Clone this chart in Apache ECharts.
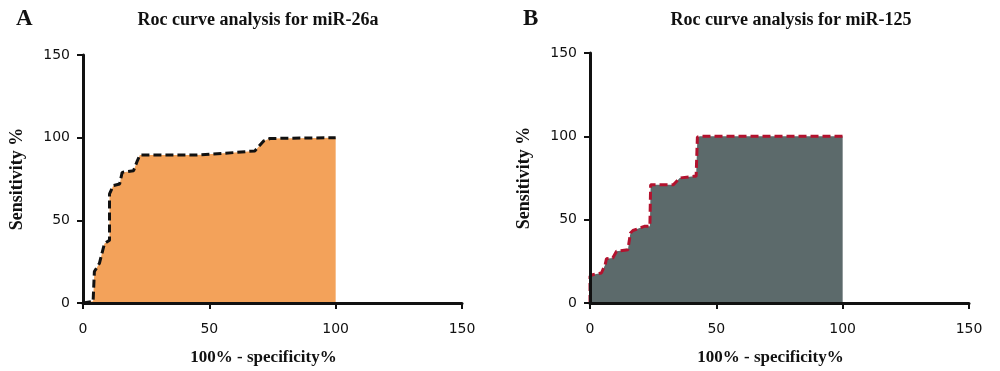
<!DOCTYPE html>
<html><head><meta charset="utf-8">
<script src="https://cdn.jsdelivr.net/npm/echarts@6/dist/echarts.min.js"></script>
<style>html,body{margin:0;padding:0;background:#fff}#c{width:1000px;height:371px}</style>
</head><body><div id="c"></div>
<script>
// Panel A: ROC for miR-26a  [100% - specificity%, sensitivity%]
const rocA = [[0,0],[4,1],[4.5,19],[6.5,24],[8.5,36],[10.5,38],[10.5,66],[12,71],[14.5,72],[15.5,79],[20,80],[21.5,86],[22.5,89.5],[45,89.5],[60,91],[68,92],[71.5,98],[74,99.5],[100,100]];
// Panel B: ROC for miR-125
const rocB = [[0,0],[0,16],[1,17],[4.5,18],[6,23],[6.5,26.5],[9,27],[10.5,31],[15,32],[16,42],[17,43.5],[21.5,46],[23.7,46],[24,71],[33,71],[35.5,75],[41,76],[42,76],[42.5,99.5],[43.5,100],[100,100]];
const titles = ['Roc curve analysis for miR-26a','Roc curve analysis for miR-125'];
const panelLetters = ['A','B'];
const xName = '100% - specificity%';
const yName = 'Sensitivity %';
const axisMin = 0, axisMax = 150, axisStep = 50;

const serif = '"Liberation Serif", "DejaVu Serif", serif';
const sans = '"DejaVu Sans", sans-serif';
const chart = echarts.init(document.getElementById('c'));

function xAx(i){
  return {gridIndex:i,type:'value',min:axisMin,max:axisMax,interval:axisStep,z:10,
    name:xName,nameLocation:'middle',nameGap:46,
    nameTextStyle:{fontFamily:serif,fontWeight:'bold',fontSize:17,color:'#111',padding:[0,18,0,0]},
    axisLine:{show:true,onZero:false,lineStyle:{color:'#111',width:3}},
    axisTick:{show:true,length:6,lineStyle:{color:'#111',width:2}},
    axisLabel:{fontFamily:sans,fontSize:14,color:'#111',margin:19},
    splitLine:{show:false}};
}
function yAx(i){
  return {gridIndex:i,type:'value',min:axisMin,max:axisMax,interval:axisStep,z:10,
    name:yName,nameLocation:'middle',nameGap:57,nameRotate:90,
    nameTextStyle:{fontFamily:serif,fontWeight:'bold',fontSize:18,color:'#111'},
    axisLine:{show:true,onZero:false,lineStyle:{color:'#111',width:3}},
    axisTick:{show:true,length:6,lineStyle:{color:'#111',width:2}},
    axisLabel:{fontFamily:sans,fontSize:14,color:'#111',margin:13},
    splitLine:{show:false}};
}

chart.setOption({
  animation:false,
  backgroundColor:'#fff',
  title:[
    {text:panelLetters[0],left:11,top:3,textStyle:{fontFamily:serif,fontWeight:'bold',fontSize:23,color:'#111'}},
    {text:panelLetters[1],left:518,top:3,textStyle:{fontFamily:serif,fontWeight:'bold',fontSize:23,color:'#111'}},
    {text:titles[0],left:253,top:6,textAlign:'center',textStyle:{fontFamily:serif,fontWeight:'bold',fontSize:18,color:'#111'}},
    {text:titles[1],left:786,top:6,textAlign:'center',textStyle:{fontFamily:serif,fontWeight:'bold',fontSize:18,color:'#111'}}
  ],
  grid:[
    {left:83,top:55,width:379,height:253},
    {left:590,top:53,width:379,height:253}
  ],
  xAxis:[xAx(0),xAx(1)],
  yAxis:[yAx(0),yAx(1)],
  series:[
    {type:'line',xAxisIndex:0,yAxisIndex:0,data:rocA,showSymbol:false,symbol:'none',
     lineStyle:{color:'#111',width:3,type:[8,4]},areaStyle:{color:'#F3A25A',opacity:1}},
    {type:'line',xAxisIndex:1,yAxisIndex:1,data:rocB,showSymbol:false,symbol:'none',
     lineStyle:{color:'#B3122E',width:3,type:[8,4]},areaStyle:{color:'#5C6A6B',opacity:1}}
  ]
});
</script></body></html>
